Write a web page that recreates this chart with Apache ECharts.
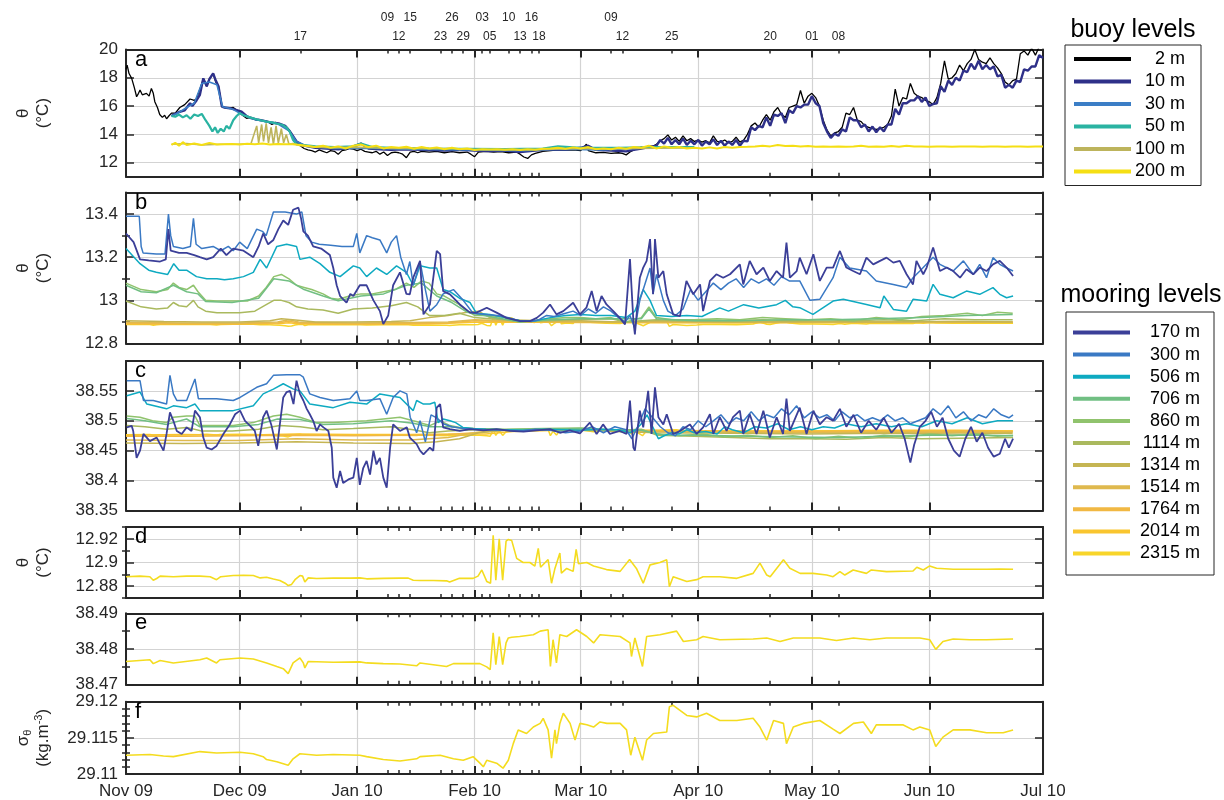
<!DOCTYPE html>
<html>
<head>
<meta charset="utf-8">
<script src="https://cdn.jsdelivr.net/npm/echarts@6/dist/echarts.min.js"></script>
<style>
html,body{margin:0;padding:0;background:#fff;}
#chart{width:1224px;height:800px;}
</style>
</head>
<body>
<div id="chart"></div>
<script>
// ---------------------------------------------------------------------------
// Time axis: every x value is a day count from 2009-11-01 (UTC).
// ---------------------------------------------------------------------------
const monthStarts = ['2009-11-01','2009-12-01','2010-01-01','2010-02-01','2010-03-01',
                     '2010-04-01','2010-05-01','2010-06-01','2010-07-01'];
const monthLabels = ['Nov 09','Dec 09','Jan 10','Feb 10','Mar 10','Apr 10','May 10','Jun 10','Jul 10'];
// event dates marked along the top; labels alternate between two rows
const eventDatesUpper = ['2010-01-09','2010-01-15','2010-01-26','2010-02-03','2010-02-10','2010-02-16','2010-03-09'];
const eventDatesLower = ['2009-12-17','2010-01-12','2010-01-23','2010-01-29','2010-02-05','2010-02-13',
                         '2010-02-18','2010-03-12','2010-03-25','2010-04-20','2010-05-01','2010-05-08'];

// y tick values per panel (labelled ticks, then unlabelled minor ticks)
const yTicksA = [12, 14, 16, 18, 20];
const yTicksB = [12.8, 13, 13.2, 13.4];
const yMinorB = [12.9, 13.1, 13.3];
const yTicksC = [38.35, 38.4, 38.45, 38.5, 38.55];
const yTicksD = [12.88, 12.9, 12.92];
const yMinorD = [12.87, 12.89, 12.91, 12.93];
const yTicksE = [38.47, 38.48, 38.49];
const yMinorE = [38.475, 38.485];
const yTicksF = [29.11, 29.115, 29.12];
const yMinorF = [29.111, 29.112, 29.113, 29.114, 29.116, 29.117, 29.118, 29.119];

const buoyNames = ['2 m', '10 m', '30 m', '50 m', '100 m', '200 m'];
const mooringNames = ['170 m', '300 m', '506 m', '706 m', '860 m', '1114 m', '1314 m',
                      '1514 m', '1764 m', '2014 m', '2315 m'];

// ---------------------------------------------------------------------------
// Buoy temperature (°C), [day, value]
// ---------------------------------------------------------------------------
const buoy2m = [[0,18.6],[0.3,18.9],[0.8,18.3],[1.5,17.96],[2.2,17.3],[2.8,16.66],[3.3,16.9],[3.7,17.14],[4.3,16.8],[5.4,16.9],[6.1,16.7],[6.7,17.25],[7.2,16.9],[7.6,16.31],[8.3,15.9],[8.9,15.4],[9.6,15.2],[10.2,15.35],[10.7,15.1],[11.3,15.3],[12,15.5],[13,15.5],[14.2,15.9],[15.5,16.1],[16.9,16.5],[18,16.4],[18.6,16.5],[19.5,17.2],[20.4,17.9],[21.3,17.4],[22,17.9],[23,18.3],[23.7,17.7],[24.4,17.4],[25.3,16.0],[26,15.9],[27.4,15.85],[28.3,15.9],[29.2,15.72],[30.5,15.4],[31.8,15.14],[33,15.2],[34.5,15.0],[36.2,14.97],[37.5,14.9],[38.5,14.7],[39.5,14.85],[40.6,14.73],[42,14.6],[43.3,14.19],[44.2,13.8],[45,13.48],[46,13.2],[47,13.0],[48,12.9],[49,12.85],[50,12.75],[51,12.9],[52,12.8],[53,12.7],[54,12.85],[55,12.8],[56,12.6],[57,12.85],[58,12.9],[59,13.0],[60,12.95],[61,12.85],[62,12.95],[63,12.8],[64,12.75],[65,12.7],[66,12.8],[67,12.6],[68,12.75],[69,12.5],[70,12.7],[71,12.75],[72,12.7],[73,12.6],[74,12.35],[75,12.75],[76,12.8],[77,12.7],[78,12.8],[80,12.75],[82,12.8],[84,12.7],[86,12.78],[88,12.7],[90,12.75],[91,12.6],[92,12.42],[93,12.75],[95,12.8],[97,12.75],[99,12.78],[101,12.7],[103,12.75],[104,12.6],[105,12.4],[106,12.3],[107,12.55],[108,12.65],[110,12.8],[112,12.85],[114,12.9],[116,12.88],[118,12.9],[120,12.85],[121.5,13.3],[122,12.85],[124,12.7],[126,12.72],[128,12.65],[130,12.7],[131,12.65],[132,12.55],[133,12.75],[134,12.9],[135,13.0],[136,13.1],[137,13.05],[138,13.2],[139,13.15],[140,13.3],[141,13.55],[142,13.7],[143,13.96],[144,13.6],[145,13.8],[146,13.5],[147,13.9],[148,13.55],[149,13.7],[150,13.5],[151,13.6],[152,13.45],[153,13.55],[154,13.4],[155,13.9],[156,13.5],[157,13.45],[158,13.6],[159,13.4],[160,13.5],[161,13.8],[162,13.45],[163,13.6],[164,14.0],[165,14.6],[166,14.8],[167,14.5],[168,15.0],[169,15.4],[170,15.0],[171,15.6],[172,15.9],[173,15.4],[174,15.2],[175,15.9],[176,16.0],[177,16.1],[178,17.1],[179,16.2],[180,16.7],[181,16.9],[182,16.6],[183,16.0],[184,15.0],[185,14.3],[186,13.9],[187,14.1],[188,14.2],[189,14.5],[190,15.5],[191,15.4],[192,15.9],[193,15.0],[194,14.9],[195,14.6],[196,14.5],[197,14.4],[198,14.35],[199,14.4],[200,14.5],[201,14.7],[202,15.3],[203,17.2],[204,16.0],[205,16.6],[206,16.5],[207,17.6],[208,16.9],[209,16.7],[210,16.6],[211,16.4],[212,16.3],[213,16.1],[214,16.6],[215,17.6],[216,19.2],[217,17.9],[218,18.0],[219,18.3],[220,18.9],[221,18.5],[222,19.0],[223,19.3],[224,20.0],[225,19.3],[226,19.1],[227,19.0],[228,19.4],[229,19.0],[230,18.7],[231,18.3],[232,17.7],[233,17.5],[234,17.8],[235,17.9],[236,19.7],[237,19.9],[238,19.6],[239,20.1],[240,19.6],[241,20.2],[242,20.3]];
const buoy10m = [[12,15.3],[13,15.45],[14.2,15.6],[15.5,15.7],[16.9,16.2],[17.5,16.0],[18.6,16.4],[19.5,16.8],[20.4,17.96],[21.3,17.4],[22,17.9],[23,18.31],[23.7,17.8],[24.4,17.4],[25.3,15.96],[26,15.9],[27.4,15.85],[29.2,15.72],[30.5,15.6],[31.8,15.3],[33,15.15],[34.5,15.05],[36.2,14.97],[38,14.85],[40.6,14.75],[42,14.6],[43.3,14.2],[45,13.5],[47,13.2],[50,13.05],[53,13.0],[56,12.95],[59,13.05],[62,13.35],[64,13.0],[67,12.95],[70,12.9],[73,12.95],[76,12.92],[80,12.9],[84,12.85],[88,12.9],[92,12.85],[96,12.82],[100,12.85],[104,12.75],[108,12.85],[112,12.95],[116,12.92],[120,13.05],[122,13.2],[124,12.9],[128,12.85],[132,12.8],[134,12.9],[136,13.0],[138,13.1],[140,13.2],[141,13.6],[142,13.35],[143,13.75],[144,13.3],[145,13.6],[146,13.3],[147,13.7],[148,13.25],[149,13.55],[150,13.3],[151,13.6],[152,13.2],[153,13.5],[154,13.3],[155,13.65],[156,13.25],[157,13.55],[158,13.2],[159,13.5],[160,13.25],[161,13.6],[162,13.2],[163,13.55],[164,13.5],[165,14.5],[166,14.3],[167,14.6],[168,14.5],[169,15.2],[170,14.6],[171,15.4],[172,15.3],[173,15.5],[174,14.8],[175,15.7],[176,15.5],[177,16.0],[178,15.9],[179,16.1],[180,16.1],[181,16.7],[182,16.2],[183,16.0],[184,14.8],[185,14.2],[186,13.75],[187,14.05],[188,13.9],[189,14.35],[190,14.2],[191,15.2],[192,15.0],[193,15.0],[194,14.5],[195,14.7],[196,14.2],[197,14.55],[198,14.15],[199,14.5],[200,14.2],[201,14.7],[202,14.7],[203,15.8],[204,15.4],[205,16.2],[206,16.2],[207,16.4],[208,16.4],[209,16.7],[210,16.3],[211,16.6],[212,16.0],[213,16.15],[214,16.2],[215,17.4],[216,17.0],[217,17.8],[218,17.5],[219,18.0],[220,17.8],[221,18.5],[222,18.4],[223,19.0],[224,18.6],[225,19.2],[226,18.6],[227,18.9],[228,18.6],[229,18.8],[230,18.1],[231,18.2],[232,17.3],[233,17.5],[234,17.3],[235,17.8],[236,17.7],[237,18.6],[238,18.5],[239,18.8],[240,18.8],[241,19.6],[242,19.4]];
const buoy30m = [[12,15.3],[14,15.55],[16,15.9],[18,16.2],[20,17.6],[22,17.7],[24,17.5],[25.5,15.95],[28,15.8],[31,15.35],[34,15.05],[37,14.9],[40,14.75],[43,14.25],[45,13.5],[48,13.15],[55,13.0],[65,13.0],[75,12.95],[85,12.92],[95,12.88],[105,12.85],[115,12.95],[125,12.9],[135,13.0],[140,13.1]];
const buoy50m = [[12,15.3],[13,15.25],[14,15.4],[15,15.2],[16,15.35],[17,15.1],[18,15.4],[19,15.3],[20,15.45],[21,15.0],[22,14.6],[22.8,14.2],[23.5,14.5],[24.2,14.1],[25,14.4],[25.8,14.2],[26.5,14.6],[27.3,14.4],[28.3,15.0],[29.2,15.3],[30,15.5],[31,15.35],[32.7,15.2],[34,15.1],[35.5,15.0],[37,14.9],[38.5,14.85],[40,14.75],[41.4,14.66],[42.5,14.45],[43.2,14.2],[44.1,13.6],[45,13.3],[47,13.25],[50,13.15],[55,13.1],[60,13.15],[62,13.35],[65,13.1],[70,13.05],[80,13.0],[90,12.98],[100,12.95],[110,13.0],[114,13.15],[120,13.05],[130,13.05],[140,13.1],[150,13.1]];
const buoy100m = [[12,13.3],[16,13.35],[20,13.25],[25,13.3],[30,13.3],[33,13.35],[34.5,14.6],[35,13.4],[35.8,14.7],[36.3,13.5],[37,14.78],[37.6,13.4],[38.3,14.5],[38.9,13.3],[39.6,14.6],[40.2,13.4],[41,14.4],[41.6,13.4],[42.3,14.0],[43,13.3],[44,13.35],[46,13.2],[50,13.1],[55,13.05],[60,13.1],[65,13.05],[70,13.0],[75,13.02],[80,12.98],[85,13.0],[90,12.95],[95,12.93],[100,12.92],[110,12.93],[120,13.0],[130,12.98],[140,13.02],[150,13.05]];
const buoy200m = [[12,13.25],[13,13.4],[14,13.2],[15,13.45],[16,13.25],[18,13.35],[20,13.25],[22,13.4],[24,13.28],[26,13.3],[28,13.32],[30,13.28],[32,13.33],[34,13.3],[36,13.35],[38,13.28],[40,13.32],[42,13.3],[44,13.3],[46,13.25],[48,13.18],[50,13.1],[52,13.2],[54,13.05],[56,13.15],[58,13.0],[60,13.2],[62,13.28],[64,13.1],[66,13.2],[68,13.0],[70,13.1],[72,13.05],[74,13.12],[76,12.98],[78,13.1],[80,13.0],[82,13.08],[84,12.95],[86,13.05],[88,12.95],[90,13.0],[92,12.9],[94,12.95],[96,12.93],[98,12.95],[100,12.92],[102,12.95],[104,12.9],[106,12.95],[108,12.92],[110,12.98],[112,13.0],[114,13.05],[116,12.98],[118,13.08],[120,13.0],[122,13.1],[124,12.95],[126,13.0],[128,12.95],[130,13.05],[132,12.98],[134,13.1],[136,13.05],[138,13.2],[140,13.0],[142,13.15],[144,13.05],[146,13.1],[148,13.0],[150,13.05],[152,13.0],[154,13.08],[156,13.0],[158,13.1],[160,13.05],[162,13.1],[164,13.12],[166,13.15],[168,13.2],[170,13.15],[172,13.25],[174,13.18],[176,13.2],[178,13.15],[180,13.18],[182,13.12],[184,13.15],[186,13.12],[188,13.14],[190,13.12],[192,13.15],[194,13.2],[196,13.12],[198,13.15],[200,13.13],[202,13.18],[204,13.12],[206,13.2],[208,13.15],[210,13.15],[212,13.12],[214,13.14],[216,13.15],[218,13.13],[220,13.15],[222,13.14],[224,13.15],[226,13.13],[228,13.15],[230,13.14],[232,13.13],[234,13.15],[236,13.14],[238,13.13],[240,13.15],[242,13.14]];

// ---------------------------------------------------------------------------
// Mooring potential temperature (°C), [day, value]
// ---------------------------------------------------------------------------
const tempM170 = [[0,13.31],[2,13.27],[3.7,13.19],[6,13.185],[9,13.18],[10.5,13.19],[11.2,13.33],[11.8,13.23],[14,13.22],[16,13.22],[18,13.21],[19.5,13.2],[21.3,13.19],[23,13.2],[25,13.24],[26.5,13.21],[28.3,13.24],[31,13.23],[33.6,13.2],[35,13.25],[36.2,13.31],[37.5,13.26],[38.9,13.28],[40.2,13.33],[41.5,13.37],[42.8,13.35],[44.1,13.42],[45.5,13.43],[46.2,13.38],[46.8,13.32],[48,13.3],[49.4,13.25],[51.5,13.24],[53.8,13.21],[54.7,13.15],[55.6,13.07],[56.5,13.02],[58.2,12.99],[59.2,13.03],[60,13.02],[61.7,13.07],[63.5,13.07],[65.3,13.0],[67,12.95],[67.9,12.89],[69.2,12.93],[70.5,13.07],[72.3,13.13],[74,13.03],[74.9,13.028],[75.8,13.105],[77.6,13.183],[78.5,12.935],[80.2,12.981],[82,13.229],[82.9,13.214],[83.7,13.043],[85.5,13.028],[88.1,12.981],[90.8,12.943],[92.5,12.943],[95.2,12.966],[97.8,12.943],[100.4,12.919],[104,12.904],[106.6,12.904],[108.4,12.919],[110.1,12.943],[111.9,12.981],[113.6,12.935],[115.4,12.95],[118,12.989],[119.8,12.935],[121.5,12.966],[122.9,13.043],[124.2,12.95],[125.5,13.02],[126.8,12.981],[128.6,12.95],[130.3,12.919],[131.7,12.888],[133,13.191],[133.9,12.904],[134.3,12.842],[135.6,13.105],[136.5,13.152],[137.4,13.183],[138.3,13.284],[139.1,13.028],[139.6,13.284],[140.5,13.105],[141.8,13.136],[142.7,13.028],[144.4,12.935],[146.2,12.927],[147.9,13.09],[149.7,13.028],[151.5,13.074],[152.3,12.95],[154.1,13.09],[155.8,13.121],[157.6,13.105],[159.4,13.121],[162,13.167],[162.9,13.074],[164.6,13.183],[166.4,13.121],[168.2,13.152],[169.9,13.09],[171.7,13.136],[173.4,13.105],[174.3,13.268],[175.2,13.105],[177,13.136],[177.8,13.198],[179.6,13.121],[181.4,13.214],[183.1,13.09],[184.9,13.152],[186.6,13.152],[188.4,13.229],[190.1,13.152],[191.9,13.136],[193.7,13.121],[195.4,13.198],[197.2,13.167],[199,13.183],[200.7,13.198],[202.5,13.175],[204.2,13.183],[206,13.121],[207.7,13.074],[208.6,13.183],[210.4,13.121],[211.3,13.152],[213,13.245],[214.8,13.136],[216.6,13.152],[218.3,13.136],[220.1,13.105],[221.8,13.144],[223.6,13.121],[225.3,13.152],[227.1,13.136],[228.8,13.167],[230.6,13.183],[232.4,13.152],[234.1,13.113]];
const tempM300 = [[0,13.39],[3.5,13.39],[4,13.25],[4.5,13.22],[8,13.215],[10.3,13.215],[11.2,13.40],[11.8,13.3],[12.5,13.25],[15,13.24],[17,13.25],[17.8,13.38],[18.5,13.26],[20,13.24],[23,13.25],[25,13.23],[27,13.25],[28.3,13.23],[30,13.27],[32,13.24],[34.5,13.33],[36,13.32],[37,13.3],[38.9,13.41],[42,13.41],[45,13.40],[46.4,13.41],[47.5,13.3],[49,13.27],[51,13.26],[54,13.255],[57,13.25],[60,13.25],[60.9,13.31],[61.7,13.22],[63.5,13.3],[65,13.29],[67,13.28],[68.8,13.22],[70,13.27],[71.4,13.3],[72.5,13.2],[74,13.12],[74.9,13.18],[75.8,13.07],[76.7,13.12],[77.6,13.18],[79,13.05],[80.2,12.95],[82,12.98],[83.7,13.03],[86.4,13.05],[89,13.0],[91.6,12.94],[95,12.935],[98,12.93],[101,12.92],[104,12.905],[107,12.902],[109,12.91],[111,12.93],[113,12.925],[116,12.94],[118,12.95],[120,12.93],[122,12.96],[124,12.94],[126,12.97],[128,12.95],[130,12.92],[131.7,12.9],[133,12.93],[134.3,12.87],[135.6,13.0],[136.5,13.05],[137.4,13.1],[138.3,13.15],[139.1,13.03],[140,13.12],[141.8,13.0],[143,12.95],[145,12.93],[147,12.96],[149,13.05],[151,13.0],[153,13.04],[155,13.08],[157,13.05],[159,13.08],[161,13.1],[163,13.06],[165,13.1],[167,13.08],[169,13.1],[171,13.07],[173,13.11],[175,13.09],[177.8,13.09],[180.5,13.0],[183.1,13.005],[186.6,13.105],[188.4,13.2],[191,13.15],[195.4,13.136],[198,13.09],[202.5,13.074],[206,13.06],[207.7,13.105],[209.5,13.136],[213,13.2],[214.8,13.167],[218.3,13.136],[221,13.183],[223.6,13.12],[225.3,13.167],[227.1,13.105],[228.8,13.198],[230.6,13.167],[232.4,13.15],[234.1,13.136]];
const tempM506 = [[0,13.24],[3.7,13.17],[6,13.14],[8,13.13],[11,13.12],[12.6,13.17],[14,13.14],[16,13.14],[18.6,13.11],[21.3,13.1],[24,13.1],[26,13.095],[28.3,13.1],[31,13.11],[33.6,13.13],[35.4,13.19],[37.1,13.15],[39.8,13.25],[42.4,13.26],[45,13.25],[45.9,13.19],[48.5,13.2],[51.2,13.17],[53.8,13.13],[56.5,13.11],[60,13.16],[61.7,13.15],[63.5,13.11],[66.1,13.15],[68.8,13.12],[71.4,13.16],[74,13.13],[75.8,13.07],[77.6,13.16],[80.2,13.15],[82,13.15],[83.7,13.05],[85.5,13.04],[88,13.01],[90.8,12.99],[92.5,12.94],[96,12.935],[100,12.92],[104,12.905],[108,12.905],[112,12.92],[116,12.93],[120,12.935],[124,12.93],[128,12.93],[132,12.92],[134.3,12.95],[136.5,13.05],[138.3,13.0],[140,12.93],[144,12.925],[148,12.93],[152,12.925],[156.7,12.965],[159,12.95],[163,12.98],[167,12.965],[171.7,12.98],[174,13.0],[176,12.97],[177.8,12.966],[181.3,12.935],[186.6,12.997],[189.3,13.005],[195.4,12.981],[199,12.966],[200,13.02],[202.5,12.958],[206,12.95],[207.7,13.005],[211.3,12.997],[213,13.074],[214.8,13.028],[218.3,13.012],[221.8,13.043],[225.3,13.028],[228.8,13.059],[230.6,13.028],[232.4,13.012],[234.1,13.02]];
const tempM706 = [[0,13.07],[4,13.04],[8,13.035],[12.5,13.07],[16,13.04],[19,13.03],[21,12.995],[28,12.99],[35,13.01],[39,13.1],[43,13.09],[47,13.05],[52,13.02],[56,12.998],[62,13.02],[68,13.03],[74,13.07],[78,13.08],[82,13.02],[86,12.99],[90,12.945],[96,12.925],[104,12.9],[112,12.91],[120,12.915],[128,12.915],[136,12.915],[138,12.96],[140,12.915],[150,12.905],[162,12.905],[174,12.91],[186,12.91],[198,12.915],[210,12.92],[222,12.93],[234,12.935]];
const tempM860 = [[0,13.08],[4,13.05],[8,13.04],[11,13.05],[12.5,13.08],[14,13.06],[16,13.05],[17.8,13.07],[19,13.04],[21,13.0],[24,12.997],[28,12.997],[32,12.997],[35,13.02],[37,13.06],[39,13.11],[41,13.12],[43,13.1],[45,13.07],[47,13.06],[49,13.05],[52,13.03],[54,13.01],[56,13.005],[59,13.02],[62,13.03],[65,13.03],[68,13.04],[71,13.05],[74,13.08],[76,13.06],[78,13.09],[80,13.08],[82,13.03],[84,13.02],[86,13.0],[88,12.98],[90,12.95],[92,12.93],[96,12.93],[100,12.92],[104,12.905],[108,12.905],[112,12.915],[116,12.92],[120,12.92],[124,12.915],[128,12.92],[132,12.9],[136,12.92],[138,12.97],[140,12.92],[144,12.91],[150,12.91],[156,12.915],[162,12.91],[168,12.92],[174,12.915],[180,12.91],[186,12.915],[192,12.905],[198,12.92],[204,12.91],[210,12.925],[216,12.93],[222,12.94],[226,12.93],[230,12.945],[234,12.94]];
const tempM1114 = [[0,12.997],[4,12.97],[8,12.96],[11,12.965],[12.5,12.99],[14,12.975],[16,12.97],[17.8,13.0],[19,12.97],[21,12.95],[24,12.943],[30,12.943],[34,12.95],[37,12.98],[39,13.0],[41,13.0],[43,12.99],[45,12.97],[48,12.96],[52,12.955],[56,12.94],[60,12.96],[65,12.965],[70,12.975],[74,12.99],[77,12.97],[80,12.93],[84,12.93],[88,12.94],[92,12.92],[96,12.915],[100,12.91],[104,12.9],[110,12.905],[116,12.91],[122,12.912],[128,12.915],[132,12.9],[136,12.905],[140,12.91],[146,12.905],[152,12.91],[160,12.905],[168,12.91],[176,12.905],[184,12.91],[192,12.905],[200,12.91],[208,12.905],[216,12.915],[224,12.91],[234,12.91]];
const tempM1314 = [[0,12.905],[10,12.902],[20,12.9],[30,12.9],[38,12.905],[41,12.915],[44,12.91],[50,12.9],[60,12.9],[70,12.902],[75,12.905],[80,12.92],[85,12.93],[90,12.945],[93,12.95],[96,12.92],[100,12.91],[110,12.905],[120,12.905],[130,12.9],[140,12.905],[160,12.9],[180,12.902],[200,12.9],[220,12.903],[234,12.9]];
const tempM1514 = [[0,12.898],[15,12.895],[30,12.895],[40,12.9],[43,12.91],[46,12.898],[60,12.895],[75,12.897],[85,12.9],[92,12.91],[100,12.905],[120,12.9],[140,12.9],[160,12.898],[180,12.9],[200,12.898],[220,12.9],[234,12.899]];
const tempM1764 = [[0,12.893],[15,12.892],[30,12.892],[40,12.895],[43,12.903],[46,12.894],[60,12.892],[75,12.893],[85,12.895],[92,12.905],[100,12.902],[120,12.9],[140,12.899],[160,12.9],[180,12.899],[200,12.9],[220,12.9],[234,12.9]];
const tempM2014 = [[0,12.89],[20,12.889],[40,12.891],[43,12.896],[46,12.89],[60,12.889],[80,12.89],[92,12.898],[100,12.9],[120,12.897],[140,12.896],[160,12.895],[180,12.896],[200,12.896],[220,12.897],[234,12.897]];

// ---------------------------------------------------------------------------
// Mooring salinity, [day, value]
// ---------------------------------------------------------------------------
const saltM170 = [[0.2,38.489],[1.5,38.4916],[1.9,38.483],[2.8,38.438],[3.7,38.45],[4.6,38.478],[6.3,38.466],[8.1,38.472],[9,38.461],[9.9,38.45],[10.7,38.478],[11.6,38.514],[12.5,38.5],[13.4,38.483],[14.7,38.478],[16,38.489],[17.3,38.483],[18.2,38.517],[19.5,38.506],[20.4,38.472],[21.3,38.455],[22.6,38.452],[23.9,38.458],[25.7,38.478],[27.4,38.494],[28.8,38.511],[30.1,38.517],[31.4,38.5],[32.7,38.492],[34,38.483],[34.9,38.458],[36.2,38.506],[37.1,38.517],[38.4,38.492],[39.8,38.452],[40.6,38.494],[41.5,38.539],[42.4,38.548],[43.3,38.55],[44.2,38.528],[45,38.567],[45.9,38.545],[46.8,38.534],[47.7,38.52],[48.5,38.511],[49.4,38.5],[50.3,38.483],[51.2,38.494],[52.1,38.489],[53.4,38.483],[54.3,38.455],[54.7,38.405],[55.6,38.388],[56.5,38.416],[57.3,38.396],[58.7,38.402],[60,38.405],[60.9,38.438],[61.7,38.393],[62.6,38.421],[63.5,38.433],[64.4,38.41],[65.3,38.45],[66.1,38.427],[67,38.438],[67.9,38.405],[68.8,38.388],[69.7,38.455],[70.5,38.494],[72.3,38.483],[74.1,38.489],[74.9,38.472],[76.7,38.461],[77.6,38.45],[78.5,38.444],[80.2,38.455],[81.1,38.45],[82,38.522],[82.9,38.528],[83.7,38.489],[85.5,38.486],[88.1,38.483],[90.8,38.486],[94.3,38.484],[97.8,38.486],[101.3,38.483],[104.9,38.482],[108.4,38.484],[111.9,38.486],[114.5,38.48],[117.1,38.484],[119.8,38.479],[122.4,38.497],[124.2,38.478],[125.9,38.494],[127.7,38.478],[130.3,38.483],[132.1,38.478],[133,38.534],[133.9,38.455],[134.3,38.45],[135.6,38.517],[136.5,38.489],[137.8,38.55],[138.7,38.478],[139.6,38.556],[140.5,38.506],[141.8,38.494],[142.7,38.511],[144.4,38.478],[146.2,38.483],[148.8,38.494],[150.6,38.478],[152.3,38.489],[154.1,38.511],[155,38.478],[156.7,38.506],[158.5,38.483],[160.2,38.506],[162,38.517],[162.9,38.478],[164.6,38.511],[166.4,38.478],[168.2,38.517],[169.9,38.472],[171.7,38.506],[173.4,38.478],[174.3,38.537],[175.2,38.483],[177.8,38.522],[179.6,38.478],[181.4,38.517],[183.1,38.494],[184.9,38.506],[186.6,38.5],[188.4,38.52],[190.1,38.49],[192,38.51],[194,38.48],[196,38.5],[198,38.485],[200,38.505],[202,38.48],[204,38.495],[205.5,38.47],[207,38.43],[208,38.46],[209.5,38.49],[211,38.5],[212.5,38.515],[214,38.49],[215.5,38.505],[217,38.47],[218.5,38.45],[220,38.44],[221.5,38.47],[223,38.49],[224.5,38.465],[226,38.48],[227.5,38.455],[229,38.44],[230.6,38.445],[232,38.47],[233,38.455],[234.1,38.47]];
const saltM300 = [[0.2,38.567],[3.7,38.567],[4.6,38.534],[7.2,38.534],[10.7,38.528],[11.6,38.576],[12.5,38.545],[13.4,38.534],[16,38.534],[18.2,38.57],[19.1,38.537],[23.9,38.537],[28.3,38.534],[30.1,38.539],[34.5,38.556],[37.1,38.562],[38.9,38.576],[42.4,38.577],[45.9,38.577],[46.8,38.573],[48.5,38.545],[51.2,38.539],[54.7,38.534],[59.1,38.537],[60.9,38.55],[61.7,38.534],[63.5,38.534],[67,38.537],[68.8,38.511],[70.5,38.539],[72.3,38.55],[74.1,38.545],[75,38.506],[76.7,38.48],[77.6,38.5],[79,38.465],[80.5,38.51],[82,38.505],[83.7,38.495],[86,38.49],[89,38.487],[92,38.486],[96,38.485],[100,38.484],[104,38.483],[108,38.486],[112,38.484],[116,38.48],[120,38.483],[123,38.49],[126,38.48],[129,38.49],[132,38.485],[133.5,38.47],[135,38.49],[137,38.52],[139,38.505],[141,38.49],[143,38.48],[145,38.475],[147,38.49],[149,38.485],[151,38.5],[153,38.49],[155,38.5],[157,38.51],[159,38.495],[161,38.505],[163,38.5],[165,38.515],[167,38.5],[169,38.51],[171,38.505],[173,38.52],[175,38.51],[177,38.525],[179,38.505],[181,38.515],[183,38.505],[185,38.51],[187,38.5],[189,38.515],[191,38.505],[193,38.51],[195,38.5],[197,38.505],[199,38.5],[201,38.51],[203,38.5],[205,38.505],[207,38.495],[209,38.5],[211,38.505],[213,38.52],[215,38.51],[217,38.525],[219,38.505],[221,38.515],[223,38.5],[225,38.51],[227,38.505],[229,38.52],[231,38.51],[233,38.505],[234.1,38.51]];
const saltM506 = [[0.2,38.542],[3.7,38.548],[5.5,38.528],[10.7,38.52],[12.5,38.525],[16,38.522],[18.2,38.528],[19.5,38.517],[28.3,38.517],[33.6,38.525],[36.2,38.545],[38.9,38.553],[41.5,38.562],[44.2,38.553],[45.9,38.55],[48.5,38.528],[54.7,38.522],[59.1,38.531],[63.5,38.528],[67,38.545],[72.3,38.539],[75.8,38.517],[76.7,38.534],[78.5,38.528],[80.2,38.528],[81.5,38.531],[82.4,38.497],[83.7,38.503],[85.5,38.5],[87,38.497],[88.9,38.489],[91.6,38.487],[95,38.486],[100,38.485],[105,38.484],[110,38.486],[115,38.485],[120,38.484],[125,38.486],[130,38.485],[133,38.48],[134.5,38.485],[136,38.495],[137.5,38.51],[139,38.49],[140.5,38.47],[142,38.475],[144,38.48],[146,38.478],[148,38.485],[150,38.48],[153,38.482],[156,38.478],[158,38.49],[160,38.485],[163,38.48],[166,38.49],[169,38.488],[172,38.495],[175,38.485],[178,38.49],[181,38.485],[184,38.49],[187,38.488],[190,38.495],[194,38.49],[198,38.495],[202,38.49],[206,38.495],[210,38.49],[214,38.5],[218,38.495],[222,38.505],[226,38.495],[230,38.5],[234.1,38.5]];
const saltM706 = [[0.2,38.504],[5,38.5],[10.7,38.494],[16,38.503],[19.5,38.49],[28.3,38.49],[35,38.494],[40,38.503],[45.9,38.502],[52,38.494],[60,38.495],[70,38.5],[75.8,38.496],[80.2,38.49],[85.5,38.49],[92,38.486],[100,38.485],[110,38.486],[120,38.487],[130,38.484],[136,38.484],[142,38.476],[152,38.476],[164,38.474],[176,38.473],[188,38.472],[200,38.474],[212,38.476],[224,38.476],[234.1,38.475]];
const saltM860 = [[0.2,38.508],[3.7,38.506],[7,38.5],[10.7,38.497],[12.5,38.506],[16,38.508],[18.2,38.508],[19.5,38.492],[24,38.492],[28.3,38.492],[33.6,38.497],[38.9,38.508],[42.4,38.511],[45.9,38.506],[50.3,38.497],[54.7,38.497],[63.5,38.5],[72.3,38.506],[75.8,38.5],[77.6,38.497],[80.2,38.492],[83,38.5],[85.5,38.492],[88,38.489],[92,38.487],[100,38.486],[110,38.487],[120,38.488],[128,38.485],[132,38.48],[136,38.485],[140,38.478],[146,38.475],[152,38.478],[158,38.473],[164,38.476],[170,38.472],[176,38.475],[182,38.47],[188,38.474],[194,38.471],[200,38.476],[206,38.473],[212,38.478],[218,38.475],[224,38.478],[230,38.474],[234.1,38.476]];
const saltM1114 = [[0.2,38.492],[5,38.49],[10.7,38.486],[16,38.489],[20,38.483],[28,38.483],[35,38.486],[40.6,38.492],[46,38.49],[52,38.485],[60,38.487],[70,38.49],[75.8,38.485],[80,38.48],[85,38.483],[92,38.485],[100,38.485],[110,38.486],[120,38.485],[130,38.484],[136,38.486],[140,38.476],[150,38.474],[160,38.472],[170,38.47],[180,38.47],[190,38.469],[200,38.472],[210,38.47],[220,38.471],[234.1,38.472]];
const saltM1314 = [[0,38.463],[15,38.462],[30,38.463],[45,38.465],[60,38.463],[75,38.462],[82,38.465],[88,38.47],[93,38.48],[100,38.484],[120,38.484],[140,38.48],[160,38.479],[180,38.478],[200,38.479],[220,38.478],[234,38.479]];
const saltM1514 = [[0,38.468],[15,38.467],[30,38.467],[45,38.47],[60,38.468],[75,38.468],[85,38.472],[92,38.48],[100,38.485],[120,38.485],[140,38.482],[160,38.481],[180,38.48],[200,38.481],[220,38.481],[234,38.481]];
const saltM1764 = [[0,38.474],[15,38.474],[30,38.475],[45,38.476],[60,38.475],[75,38.476],[85,38.477],[92,38.48],[100,38.484],[120,38.485],[140,38.483],[160,38.482],[180,38.482],[200,38.482],[220,38.483],[234,38.482]];
const saltM2014 = [[0,38.476],[15,38.477],[30,38.476],[45,38.478],[60,38.477],[75,38.477],[88,38.478],[95,38.478],[102,38.482],[120,38.485],[140,38.484],[160,38.483],[180,38.483],[200,38.484],[220,38.484],[234,38.483]];

// ---------------------------------------------------------------------------
// 2315 m record: potential temperature, salinity and potential density
// ---------------------------------------------------------------------------
const theta2315 = [[0,12.888],[3.7,12.8885],[6.3,12.888],[7.2,12.885],[8.1,12.8865],[9,12.8885],[12.5,12.888],[16,12.8885],[19.5,12.8885],[22.2,12.888],[23.9,12.8855],[25,12.888],[28.3,12.889],[31,12.8892],[33.6,12.889],[35.4,12.887],[37.1,12.8875],[38.9,12.886],[40.6,12.8848],[42,12.8825],[42.8,12.8805],[43.7,12.8815],[44.6,12.8855],[45.9,12.889],[46.6,12.8885],[47.2,12.8835],[48.1,12.887],[50.3,12.8865],[54.7,12.8868],[59.1,12.8868],[61.7,12.887],[63.5,12.8862],[67.9,12.8866],[72.3,12.8868],[74.5,12.8868],[75.8,12.885],[77.6,12.8848],[81.1,12.8848],[84.6,12.8845],[85.4,12.8835],[88,12.8866],[91.6,12.8866],[92.9,12.8885],[93.9,12.8937],[95.2,12.884],[96.2,12.8825],[96.9,12.923],[97.6,12.885],[98.5,12.92],[99.4,12.885],[100.3,12.918],[100.9,12.9195],[101.8,12.9185],[103.1,12.9035],[104.8,12.9],[106.6,12.9],[107.9,12.897],[108.8,12.912],[109.4,12.896],[111.4,12.9025],[112.3,12.8825],[113.2,12.895],[114.5,12.908],[114.9,12.891],[116.3,12.895],[118,12.8925],[118.8,12.911],[119.4,12.899],[121.6,12.9],[123.4,12.897],[126.8,12.894],[130.4,12.8925],[132.9,12.9025],[134.7,12.895],[136.5,12.8825],[138.3,12.898],[140.9,12.9],[142.7,12.9023],[143.4,12.8795],[144.4,12.888],[148,12.884],[150.6,12.8855],[152.3,12.888],[156.7,12.888],[161.2,12.8866],[165.5,12.8908],[167.3,12.8995],[169.1,12.8894],[170,12.888],[173.5,12.9023],[175.2,12.8951],[177.9,12.8908],[181.3,12.8908],[184.9,12.8894],[186.6,12.888],[188.4,12.8923],[189.7,12.8894],[191.9,12.8937],[195.4,12.8908],[196.7,12.8937],[200.7,12.8923],[207.7,12.8928],[208.7,12.896],[210.4,12.8937],[212.1,12.8971],[213.9,12.8951],[218.3,12.8943],[222.7,12.8943],[227.1,12.8943],[230.6,12.8945],[234.1,12.8943]];
const salt2315 = [[0,38.4765],[6.3,38.477],[7.2,38.4759],[9,38.4768],[12.5,38.4761],[19.5,38.477],[21.3,38.4775],[23.9,38.4761],[24.8,38.477],[30.1,38.4775],[33.6,38.4772],[37.1,38.4761],[39.8,38.4751],[41.5,38.4745],[42.8,38.4731],[44.1,38.4761],[45.9,38.4775],[46.8,38.4761],[47.2,38.4747],[48.1,38.4765],[54.7,38.4763],[61.7,38.4764],[63.5,38.4761],[67.9,38.4759],[72.3,38.4758],[76.7,38.4753],[77.6,38.4761],[84.6,38.4751],[86.4,38.4759],[93.4,38.4759],[95.2,38.475],[96.1,38.4742],[96.9,38.4845],[97.6,38.4756],[98.5,38.4835],[99.4,38.4756],[100.3,38.4817],[100.9,38.4831],[101.8,38.4833],[103.9,38.4835],[107.5,38.484],[109.3,38.485],[111.4,38.4854],[112,38.4751],[112.7,38.4826],[113.6,38.4761],[114.5,38.484],[116.3,38.4835],[118.9,38.4854],[121.6,38.4835],[123.4,38.4817],[125.1,38.484],[130.4,38.4835],[133,38.4817],[133.4,38.4779],[134.3,38.4831],[136.3,38.4751],[137.4,38.4835],[140.9,38.484],[145.3,38.485],[147.1,38.4821],[150.6,38.4826],[152.3,38.4835],[156.7,38.4826],[165.5,38.4828],[169.1,38.4831],[172.6,38.4821],[176.1,38.4831],[181.3,38.4831],[183.1,38.4831],[187.5,38.4824],[192,38.4831],[196.3,38.4826],[200.7,38.4831],[209.5,38.4831],[212.1,38.4826],[213.7,38.4799],[215.6,38.4821],[218.3,38.4828],[222.7,38.4826],[227.1,38.4826],[234.1,38.4828]];
const sigma2315 = [[0,29.1126],[6.3,29.1127],[9.9,29.1125],[12.5,29.1124],[19.5,29.1131],[23.9,29.1129],[30.1,29.113],[33.6,29.1128],[36.2,29.1124],[37.1,29.112],[39.8,29.1117],[42.8,29.1112],[44.1,29.1121],[45.9,29.1128],[50.3,29.1126],[54.7,29.1127],[61.7,29.1126],[63.5,29.1124],[67.9,29.112],[72.3,29.1118],[76.7,29.1121],[77.6,29.1124],[82.9,29.1126],[86.4,29.1121],[89,29.1119],[91.6,29.1124],[93.4,29.1115],[94.3,29.111],[95.2,29.1119],[97.8,29.1115],[99.5,29.1108],[100.9,29.1119],[102.2,29.1142],[103.5,29.1161],[105.7,29.1156],[107.5,29.1165],[109.3,29.117],[110.1,29.1177],[111.4,29.1161],[112.3,29.1122],[113.2,29.1161],[113.6,29.1142],[114.5,29.117],[115.4,29.1184],[117.2,29.117],[118.5,29.1147],[119.8,29.117],[121.6,29.1168],[123.4,29.1165],[125.1,29.1172],[126.9,29.117],[130.4,29.117],[132.1,29.1161],[133.2,29.1126],[134.3,29.1151],[136.3,29.1119],[137.4,29.1147],[139.2,29.1156],[142.7,29.1158],[143.4,29.1193],[144.4,29.1195],[146.2,29.1188],[148,29.1181],[150.6,29.1179],[153.2,29.1184],[156.7,29.1174],[161.2,29.1174],[165.5,29.1177],[167.3,29.1165],[169.1,29.1147],[170.9,29.1174],[173.5,29.117],[174.3,29.1142],[176.1,29.1165],[178.7,29.117],[183.1,29.1174],[186.6,29.1162],[188.4,29.1156],[192,29.117],[194.6,29.1172],[196.7,29.1156],[198,29.1168],[205,29.1168],[207.7,29.1161],[209.5,29.1165],[212.1,29.1161],[213.7,29.1138],[215.6,29.1151],[218.3,29.1161],[222.7,29.1161],[227.1,29.1157],[231.5,29.1157],[234.1,29.1161]];

// ---------------------------------------------------------------------------
// Styling and layout
// ---------------------------------------------------------------------------
const INK = '#262626';
const GRID = '#d3d3d3';
const FONT = '"Liberation Sans", Arial, Helvetica, sans-serif';
const buoyColors = {'2 m':'#000000','10 m':'#2e3089','30 m':'#3b7ec6','50 m':'#2ab3a2','100 m':'#bdb45c','200 m':'#f5df14'};
const buoyWidths = {'2 m':1.3,'10 m':2.4,'30 m':1.6,'50 m':2.2,'100 m':1.6,'200 m':2};
const mooringColors = {'170 m':'#3b3f98','300 m':'#3a79c4','506 m':'#0eaac1','706 m':'#71bf83','860 m':'#90c36d',
  '1114 m':'#aab95e','1314 m':'#c5b553','1514 m':'#dfb94e','1764 m':'#f1b843','2014 m':'#f9c52f','2315 m':'#f8d52a'};
const deepColor = '#f4dc1f';

const DAY_MS = 86400000;
const ORIGIN = Date.UTC(2009, 10, 1);
const toDay = s => Math.round((Date.parse(s + 'T00:00:00Z') - ORIGIN) / DAY_MS);
const X_MAX = toDay(monthStarts[monthStarts.length - 1]);
const monthDays = monthStarts.map(toDay);
const upperDays = eventDatesUpper.map(toDay);
const lowerDays = eventDatesLower.map(toDay);
const eventDays = upperDays.concat(lowerDays).sort((a, b) => a - b);
const monthText = {};
monthDays.forEach((d, i) => { monthText[d] = monthLabels[i]; });
const eventText = {};
eventDatesUpper.concat(eventDatesLower).forEach(s => { eventText[toDay(s)] = s.slice(8, 10); });

const PLOT_LEFT = 126, PLOT_WIDTH = 917;
const thetaName = 'θ\n(°C)';
const sigmaName = '{s|σ}{u|θ}\n{n|(kg.m}{p|-3}{n|)}';
const panels = [
  {letter:'a', top:49.5, height:127.3, min:11,    max:20,    ticks:yTicksA, minor:[],      name:thetaName},
  {letter:'b', top:192.5, height:151,  min:12.8,  max:13.5,  ticks:yTicksB, minor:yMinorB, name:thetaName},
  {letter:'c', top:361,  height:149.5, min:38.35, max:38.6,  ticks:yTicksC, minor:[],      name:''},
  {letter:'d', top:527,  height:71,    min:12.87, max:12.93, ticks:yTicksD, minor:yMinorD, name:thetaName},
  {letter:'e', top:613.3, height:71.4, min:38.47, max:38.49, ticks:yTicksE, minor:yMinorE, name:''},
  {letter:'f', top:701.7, height:72.3, min:29.11, max:29.12, ticks:yTicksF, minor:yMinorF, name:sigmaName}
];

const fmtY = v => String(parseFloat(Number(v).toFixed(4)));
const axisLineStyle = {color: INK, width: 2};
const textBase = {color: INK, fontFamily: FONT};

const grid = [], xAxis = [], yAxis = [], series = [], graphic = [];
const xMain = [], yMain = [];

panels.forEach((p, gi) => {
  grid.push({left: PLOT_LEFT, top: p.top, width: PLOT_WIDTH, height: p.height});

  const xBase = {gridIndex: gi, type: 'value', min: 0, max: X_MAX,
    axisLine: {show: false}, axisTick: {show: false}, axisLabel: {show: false}, splitLine: {show: false}};
  // bottom: month ticks, vertical grid lines, month labels on the last panel
  xMain[gi] = xAxis.length;
  xAxis.push(Object.assign({}, xBase, {position: 'bottom',
    axisLine: {show: true, onZero: false, lineStyle: axisLineStyle},
    axisTick: {show: true, inside: true, length: 8, customValues: monthDays, lineStyle: {color: INK, width: 2}},
    axisLabel: {show: gi === panels.length - 1, customValues: monthDays, formatter: v => monthText[Math.round(v)] || '',
      fontSize: 17, margin: 9, ...textBase},
    splitLine: {show: true, lineStyle: {color: GRID, width: 1.2}}}));
  // top: month ticks and frame
  xAxis.push(Object.assign({}, xBase, {position: 'top',
    axisLine: {show: true, onZero: false, lineStyle: axisLineStyle},
    axisTick: {show: true, inside: true, length: 8, customValues: monthDays, lineStyle: {color: INK, width: 2}}}));
  // bottom: event ticks
  xAxis.push(Object.assign({}, xBase, {position: 'bottom',
    axisTick: {show: true, inside: true, length: 4, customValues: eventDays, lineStyle: {color: INK, width: 1.5}}}));
  // top: event ticks, with the lower row of day labels above the first panel
  xAxis.push(Object.assign({}, xBase, {position: 'top',
    axisTick: {show: true, inside: true, length: 4, customValues: eventDays, lineStyle: {color: INK, width: 1.5}},
    axisLabel: {show: gi === 0, customValues: lowerDays, formatter: v => eventText[Math.round(v)] || '',
      fontSize: 12, margin: 7, ...textBase}}));
  if (gi === 0) {
    xAxis.push(Object.assign({}, xBase, {position: 'top',
      axisLabel: {show: true, customValues: upperDays, formatter: v => eventText[Math.round(v)] || '',
        fontSize: 12, margin: 26, ...textBase}}));
  }

  const yBase = {gridIndex: gi, type: 'value', min: p.min, max: p.max,
    axisLine: {show: false}, axisTick: {show: false}, axisLabel: {show: false}, splitLine: {show: false}};
  yMain[gi] = yAxis.length;
  yAxis.push(Object.assign({}, yBase, {position: 'left',
    axisLine: {show: true, onZero: false, lineStyle: axisLineStyle},
    axisTick: {show: true, inside: true, length: 8, customValues: p.ticks, lineStyle: {color: INK, width: 1.5}},
    axisLabel: {show: true, customValues: p.ticks, formatter: fmtY, fontSize: 17, margin: 8, ...textBase},
    splitLine: {show: true, lineStyle: {color: GRID, width: 1.2}},
    name: p.name, nameLocation: 'middle', nameRotate: 90, nameGap: 73,
    nameTextStyle: {fontSize: 17, lineHeight: 20, ...textBase,
      rich: {
        s: {fontSize: 17, lineHeight: 20, ...textBase},
        u: {fontSize: 11, lineHeight: 12, verticalAlign: 'bottom', ...textBase},
        n: {fontSize: 17, lineHeight: 20, ...textBase},
        p: {fontSize: 11, lineHeight: 12, verticalAlign: 'top', ...textBase}
      }}}));
  yAxis.push(Object.assign({}, yBase, {position: 'right',
    axisLine: {show: true, onZero: false, lineStyle: axisLineStyle},
    axisTick: {show: true, inside: true, length: 8, customValues: p.ticks, lineStyle: {color: INK, width: 1.5}}}));
  if (p.minor.length) {
    ['left', 'right'].forEach(pos => yAxis.push(Object.assign({}, yBase, {position: pos,
      axisTick: {show: true, inside: true, length: 4, customValues: p.minor, lineStyle: {color: INK, width: 1.5}}})));
  }

  graphic.push({type: 'text', x: PLOT_LEFT + 9, y: p.top - 1, z: 10,
    style: {text: p.letter, fontSize: 22, fontFamily: FONT, fill: '#000', verticalAlign: 'top', textVerticalAlign: 'top'}});
});

function addLine(gi, name, data, color, width) {
  series.push({type: 'line', name, data, xAxisIndex: xMain[gi], yAxisIndex: yMain[gi],
    symbol: 'none', showSymbol: false, clip: true, silent: true, animation: false,
    emphasis: {disabled: true}, lineStyle: {color, width}, itemStyle: {color}});
}

// a: buoy temperatures (shallow first so deeper levels draw on top)
const buoyData = [buoy2m, buoy10m, buoy30m, buoy50m, buoy100m, buoy200m];
buoyNames.forEach((n, i) => addLine(0, n, buoyData[i], buoyColors[n], buoyWidths[n]));

// b, c: mooring temperature and salinity (deepest first, 170 m on top)
const tempData = [tempM170, tempM300, tempM506, tempM706, tempM860, tempM1114, tempM1314, tempM1514, tempM1764, tempM2014, theta2315];
const saltData = [saltM170, saltM300, saltM506, saltM706, saltM860, saltM1114, saltM1314, saltM1514, saltM1764, saltM2014, salt2315];
for (let i = mooringNames.length - 1; i >= 0; i--) {
  const n = mooringNames[i];
  addLine(1, n, tempData[i], mooringColors[n], i === 0 ? 1.8 : 1.5);
}
for (let i = mooringNames.length - 1; i >= 0; i--) {
  const n = mooringNames[i];
  addLine(2, n, saltData[i], mooringColors[n], i === 0 ? 1.8 : 1.5);
}

// d, e, f: 2315 m record on expanded scales
addLine(3, 'θ 2315 m', theta2315, deepColor, 1.6);
addLine(4, 'S 2315 m', salt2315, deepColor, 1.6);
addLine(5, 'σθ 2315 m', sigma2315, deepColor, 1.6);

// legend headings
graphic.push({type: 'text', x: 1133, y: 30, z: 10,
  style: {text: 'buoy levels', fontSize: 25, fontFamily: FONT, fill: '#000', align: 'center', textAlign: 'center', verticalAlign: 'middle', textVerticalAlign: 'middle'}});
graphic.push({type: 'text', x: 1141, y: 295, z: 10,
  style: {text: 'mooring levels', fontSize: 25, fontFamily: FONT, fill: '#000', align: 'center', textAlign: 'center', verticalAlign: 'middle', textVerticalAlign: 'middle'}});

const legendBase = {orient: 'vertical', selectedMode: false, icon: 'rect', itemWidth: 57, itemHeight: 4,
  borderColor: INK, borderWidth: 1, backgroundColor: '#fff', itemStyle: {borderWidth: 0},
  formatter: n => '{r|' + n + '}'};

const option = {
  animation: false,
  backgroundColor: '#ffffff',
  grid, xAxis, yAxis, series, graphic,
  legend: [
    Object.assign({}, legendBase, {data: buoyNames, left: 1065, top: 45, padding: [5, 16, 5, 9], itemGap: 4.5,
      textStyle: {rich: {r: {width: 49, align: 'right', fontSize: 18, lineHeight: 18, fontFamily: FONT, color: '#000'}}}}),
    Object.assign({}, legendBase, {data: mooringNames, left: 1066, top: 312, padding: [11.5, 14, 12.5, 7], itemGap: 4.1,
      textStyle: {rich: {r: {width: 65, align: 'right', fontSize: 18, lineHeight: 18, fontFamily: FONT, color: '#000'}}}})
  ]
};

const chart = echarts.init(document.getElementById('chart'), null, {renderer: 'canvas'});
chart.setOption(option);
</script>
</body>
</html>
